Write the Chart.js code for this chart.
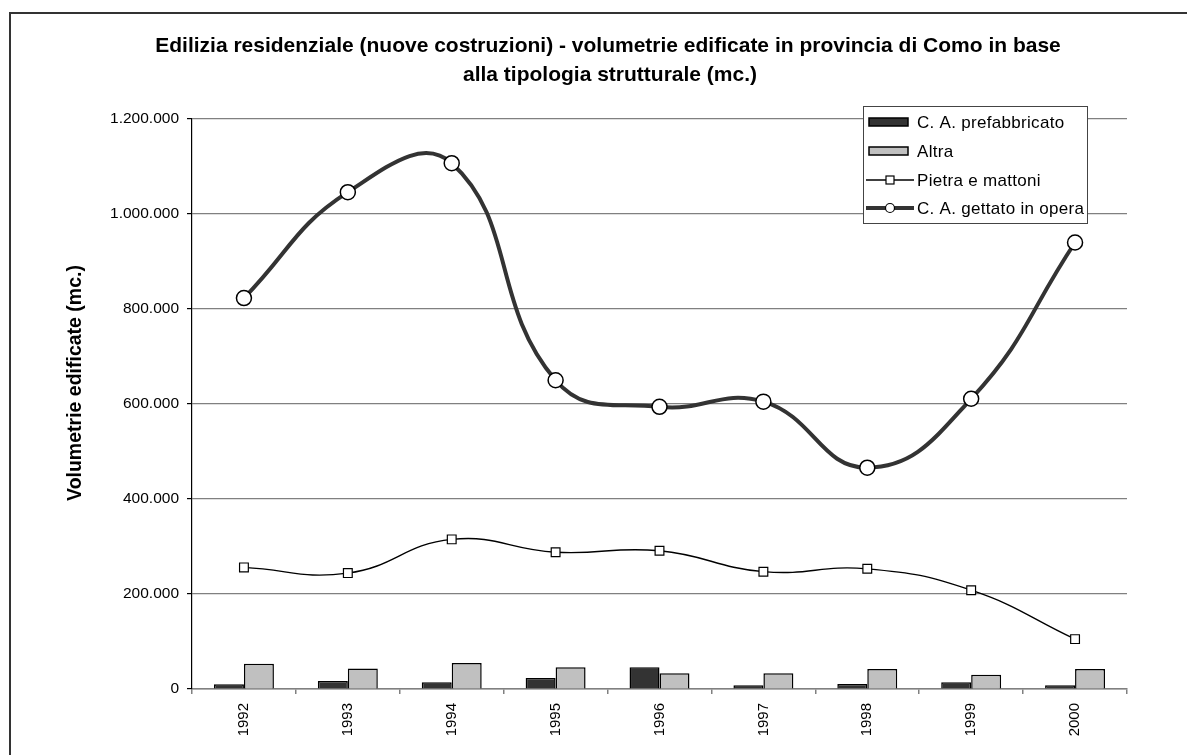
<!DOCTYPE html>
<html lang="it">
<head>
<meta charset="utf-8">
<title>Edilizia residenziale - provincia di Como</title>
<script src="https://cdn.jsdelivr.net/npm/chart.js@4.4.1/dist/chart.umd.min.js"></script>
<style>
  html, body { margin: 0; padding: 0; background: #ffffff; }
  #wrap { position: relative; width: 1187px; height: 755px; }
</style>
</head>
<body>
<div id="wrap"><canvas id="chart" width="1187" height="755"></canvas></div>
<script>
// Categories (years)
const years = ['1992', '1993', '1994', '1995', '1996', '1997', '1998', '1999', '2000'];

// Built volumes by structural type (m³)
const caPrefabbricato = [10000, 17000, 14000, 23000, 46000, 8000, 10500, 14000, 8000];
const altra = [53000, 43000, 55000, 46000, 33000, 33000, 42000, 30000, 42000];
const pietraMattoni = [256000, 244000, 315000, 288000, 291000, 247000, 253000, 208000, 105000];
const caGettato = [823000, 1046000, 1107000, 650000, 594000, 605000, 466000, 611000, 940000];

// Series labels
const seriesNames = ['C. A. prefabbricato', 'Altra', 'Pietra e mattoni', 'C. A. gettato in opera'];

// Value axis ticks
const yTickValues = [0, 200000, 400000, 600000, 800000, 1000000, 1200000];
const yTickLabels = ['0', '200.000', '400.000', '600.000', '800.000', '1.000.000', '1.200.000'];

const titleLines = [
  'Edilizia residenziale (nuove costruzioni) - volumetrie edificate in provincia di Como in base',
  'alla tipologia strutturale (mc.)'
];
const yTitle = 'Volumetrie edificate (mc.)';

const FONT = "'Liberation Sans', Arial, Helvetica, sans-serif";

// Outer frame, title and y-axis title
const decorPlugin = {
  id: 'decor',
  beforeDraw(chart) {
    const ctx = chart.ctx;
    ctx.save();
    ctx.fillStyle = '#ffffff';
    ctx.fillRect(0, 0, chart.width, chart.height);
    ctx.strokeStyle = '#333333';
    ctx.lineWidth = 2;
    ctx.strokeRect(10, 13, chart.width + 40, chart.height + 40);
    ctx.restore();
  },
  afterDraw(chart) {
    const ctx = chart.ctx;
    ctx.save();
    ctx.fillStyle = '#000000';
    ctx.textAlign = 'center';
    ctx.textBaseline = 'middle';
    ctx.font = 'bold 21px ' + FONT;
    ctx.fillText(titleLines[0], 608, 46);
    ctx.fillText(titleLines[1], 610, 75);

    ctx.translate(76, 383);
    ctx.rotate(-Math.PI / 2);
    ctx.font = 'bold 19.5px ' + FONT;
    ctx.fillText(yTitle, 0, 0);
    ctx.restore();
  }
};

// Boxed legend inside the plot, upper right
const boxLegendPlugin = {
  id: 'boxLegend',
  afterDraw(chart) {
    const ctx = chart.ctx;
    const x0 = 863, y0 = 106, w = 224, h = 117;
    const rows = [122, 151, 180, 208];
    ctx.save();
    ctx.fillStyle = '#ffffff';
    ctx.fillRect(x0, y0, w, h);
    ctx.strokeStyle = '#444444';
    ctx.lineWidth = 1;
    ctx.strokeRect(x0 + 0.5, y0 + 0.5, w, h);

    chart.data.datasets.forEach((ds, i) => {
      const cy = rows[i];
      if (ds.type === 'bar') {
        ctx.fillStyle = ds.backgroundColor;
        ctx.fillRect(869, cy - 4, 39, 8);
        ctx.strokeStyle = '#000000';
        ctx.lineWidth = 1.5;
        ctx.strokeRect(869, cy - 4, 39, 8);
      } else {
        ctx.strokeStyle = ds.borderColor;
        ctx.lineWidth = ds.borderWidth;
        ctx.beginPath();
        ctx.moveTo(866, cy);
        ctx.lineTo(914, cy);
        ctx.stroke();
        ctx.fillStyle = '#ffffff';
        ctx.strokeStyle = '#000000';
        ctx.lineWidth = 1.2;
        if (ds.pointStyle === 'rect') {
          ctx.fillRect(886, cy - 4, 8, 8);
          ctx.strokeRect(886, cy - 4, 8, 8);
        } else {
          ctx.beginPath();
          ctx.arc(890, cy, 4.5, 0, Math.PI * 2);
          ctx.fill();
          ctx.stroke();
        }
      }
      ctx.fillStyle = '#000000';
      ctx.font = '17px ' + FONT;
      ctx.letterSpacing = '0.3px';
      ctx.textAlign = 'left';
      ctx.textBaseline = 'middle';
      ctx.fillText(ds.label, 917, cy + 1);
    });
    ctx.restore();
  }
};

new Chart(document.getElementById('chart'), {
  data: {
    labels: years,
    datasets: [
      {
        type: 'bar',
        label: seriesNames[0],
        data: caPrefabbricato,
        backgroundColor: '#333333',
        borderColor: '#000000',
        borderWidth: 1.5,
        categoryPercentage: 0.577,
        barPercentage: 1.0,
        order: 3
      },
      {
        type: 'bar',
        label: seriesNames[1],
        data: altra,
        backgroundColor: '#c0c0c0',
        borderColor: '#000000',
        borderWidth: 1.5,
        categoryPercentage: 0.577,
        barPercentage: 1.0,
        order: 4
      },
      {
        type: 'line',
        label: seriesNames[2],
        data: pietraMattoni,
        borderColor: '#000000',
        borderWidth: 1.4,
        tension: 0.45,
        pointStyle: 'rect',
        pointRadius: 6.2,
        pointBackgroundColor: '#ffffff',
        pointBorderColor: '#000000',
        pointBorderWidth: 1.2,
        fill: false,
        order: 2
      },
      {
        type: 'line',
        label: seriesNames[3],
        data: caGettato,
        borderColor: '#333333',
        borderWidth: 4,
        tension: 0.45,
        pointStyle: 'circle',
        pointRadius: 7.5,
        pointBackgroundColor: '#ffffff',
        pointBorderColor: '#000000',
        pointBorderWidth: 1.5,
        fill: false,
        order: 1
      }
    ]
  },
  options: {
    responsive: false,
    animation: false,
    events: [],
    layout: { padding: { top: 119, left: 0, right: 60, bottom: 0 } },
    plugins: {
      legend: { display: false },
      title: { display: false },
      tooltip: { enabled: false }
    },
    scales: {
      x: {
        type: 'category',
        offset: true,
        grid: {
          offset: true,
          drawOnChartArea: false,
          drawTicks: true,
          tickLength: 5,
          color: '#808080',
          lineWidth: 1.5
        },
        border: { display: true, color: '#808080', width: 1.5 },
        ticks: {
          minRotation: 90,
          maxRotation: 90,
          autoSkip: false,
          padding: 9,
          color: '#000000',
          font: { family: FONT, size: 15 }
        },
        afterFit(scale) { scale.height = 66; }
      },
      y: {
        min: 0,
        max: 1200000,
        afterBuildTicks(scale) {
          scale.ticks = yTickValues.map(v => ({ value: v }));
        },
        grid: {
          color: '#808080',
          lineWidth: 1.2,
          drawTicks: true,
          tickLength: 5,
          tickColor: '#000000'
        },
        border: { display: true, color: '#000000', width: 1.2 },
        ticks: {
          padding: 8,
          color: '#000000',
          font: { family: FONT, size: 15.5 },
          callback(value) {
            const i = yTickValues.indexOf(value);
            return i >= 0 ? yTickLabels[i] : '';
          }
        },
        afterFit(scale) { scale.width = 192; }
      }
    }
  },
  plugins: [decorPlugin, boxLegendPlugin]
});
</script>
</body>
</html>
